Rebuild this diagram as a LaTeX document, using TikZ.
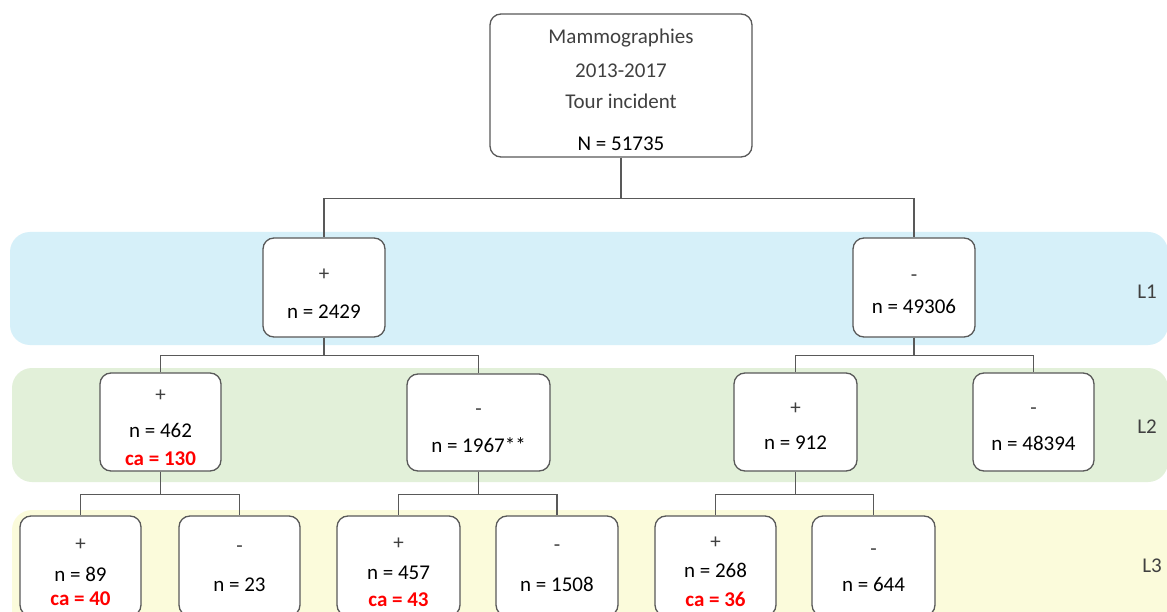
\documentclass[tikz,border=0pt]{standalone}
\usepackage{fontspec}
\setmainfont{Carlito}
\definecolor{txtgray}{RGB}{64,64,64}
\definecolor{linegray}{RGB}{89,89,89}
\definecolor{bandblue}{RGB}{214,240,249}
\definecolor{bandgreen}{RGB}{226,240,217}
\definecolor{bandyellow}{RGB}{251,251,219}
\newcommand{\gtxt}[1]{\textcolor{txtgray}{#1}}
\newcommand{\head}[1]{\rule{0pt}{24pt}\textcolor{txtgray}{#1}}
\newcommand{\cancers}[1]{\textcolor{red}{\bfseries ca = #1}}

\begin{document}
\begin{tikzpicture}[x=1pt,y=-1pt,
	box/.style={ draw=linegray, line width=1.3pt, fill=white, rounded corners=11pt, align=center, inner sep=0pt, minimum width=122pt, minimum height=99pt },
	band/.style={ rounded corners=20pt },
	link/.style={ draw=linegray, line width=1.3pt },
	every node/.style={ font=\fontsize{21}{24}\selectfont }
]

\clip (0,0) rectangle (1167,612);
\fill[white] (0,0) rectangle (1167,612);

\fill[band,bandblue] (10,232) rectangle (1168,345);
\fill[band,bandgreen] (12,368) rectangle (1168,482);
\fill[band,bandyellow] (12,510) rectangle (1190,660);

\node at (1147,292) (l1) {\gtxt{L1}};
\node at (1147,427) (l2) {\gtxt{L2}};
\node at (1152,566) (l3) {\gtxt{L3}};

\node at (621,85.5) (root) [box,minimum width=262pt,minimum height=143pt] {\head{Mammographies}\\[10pt]\gtxt{2013-2017}\\[7pt]\gtxt{Tour incident}\\[18pt]N = 51735};

\node at (324,287.5) (p) [box] {\head{+}\\[15pt]n = 2429};
\node at (914,287.5) (m) [box] {\head{-}\\[8pt]n = 49306\rule[-4pt]{0pt}{0pt}};
\draw[link] (root.south) -- ++(0,41) -| (p.north);
\draw[link] (root.south) -- ++(0,41) -| (m.north);

\node at (160.5,422) (pp) [box,minimum width=121pt,minimum height=98pt] {\head{+}\\[12pt]n = 462\\[4pt]\cancers{130}};
\node at (478.5,422.5) (pm) [box,minimum width=143pt,minimum height=97pt] {\head{-}\\[13pt]n = 1967**};
\node at (795.5,422) (mp) [box,minimum width=123pt,minimum height=98pt] {\head{+}\\[11pt]n = 912\rule[-4pt]{0pt}{0pt}};
\node at (1033.5,422) (mm) [box,minimum width=121pt,minimum height=98pt] {\head{-}\\[12pt]n = 48394\rule[-4pt]{0pt}{0pt}};
\draw[link] (p.south) -- ++(0,18) -| (pp.north);
\draw[link] (p.south) -- ++(0,18) -| (pm.north);
\draw[link] (m.south) -- ++(0,18) -| (mp.north);
\draw[link] (m.south) -- ++(0,18) -| (mm.north);

\node at (80.5,566) (ppp) [box,minimum width=121pt,minimum height=100pt] {\head{+}\\[7pt]n = 89\\[0pt]\cancers{40}};
\node at (239.5,566) (ppm) [box,minimum width=121pt,minimum height=100pt] {\head{-}\\[15pt]n = 23\rule[-13pt]{0pt}{0pt}};
\node at (398.5,566) (pmp) [box,minimum width=123pt,minimum height=100pt] {\head{+}\\[6pt]n = 457\\[3pt]\cancers{43}};
\node at (557,566) (pmm) [box,minimum width=122pt,minimum height=100pt] {\head{-}\\[16pt]n = 1508\rule[-13pt]{0pt}{0pt}};
\node at (715.5,566) (mpp) [box,minimum width=121pt,minimum height=100pt] {\head{+}\\[5pt]n = 268\\[5pt]\cancers{36}};
\node at (873.5,566) (mpm) [box,minimum width=123pt,minimum height=100pt] {\head{-}\\[12pt]n = 644\rule[-10pt]{0pt}{0pt}};
\draw[link] (pp.south) -- ++(0,23) -| (ppp.north);
\draw[link] (pp.south) -- ++(0,23) -| (ppm.north);
\draw[link] (pm.south) -- ++(0,23) -| (pmp.north);
\draw[link] (pm.south) -- ++(0,23) -| (pmm.north);
\draw[link] (mp.south) -- ++(0,23) -| (mpp.north);
\draw[link] (mp.south) -- ++(0,23) -| (mpm.north);

\end{tikzpicture}
\end{document}
